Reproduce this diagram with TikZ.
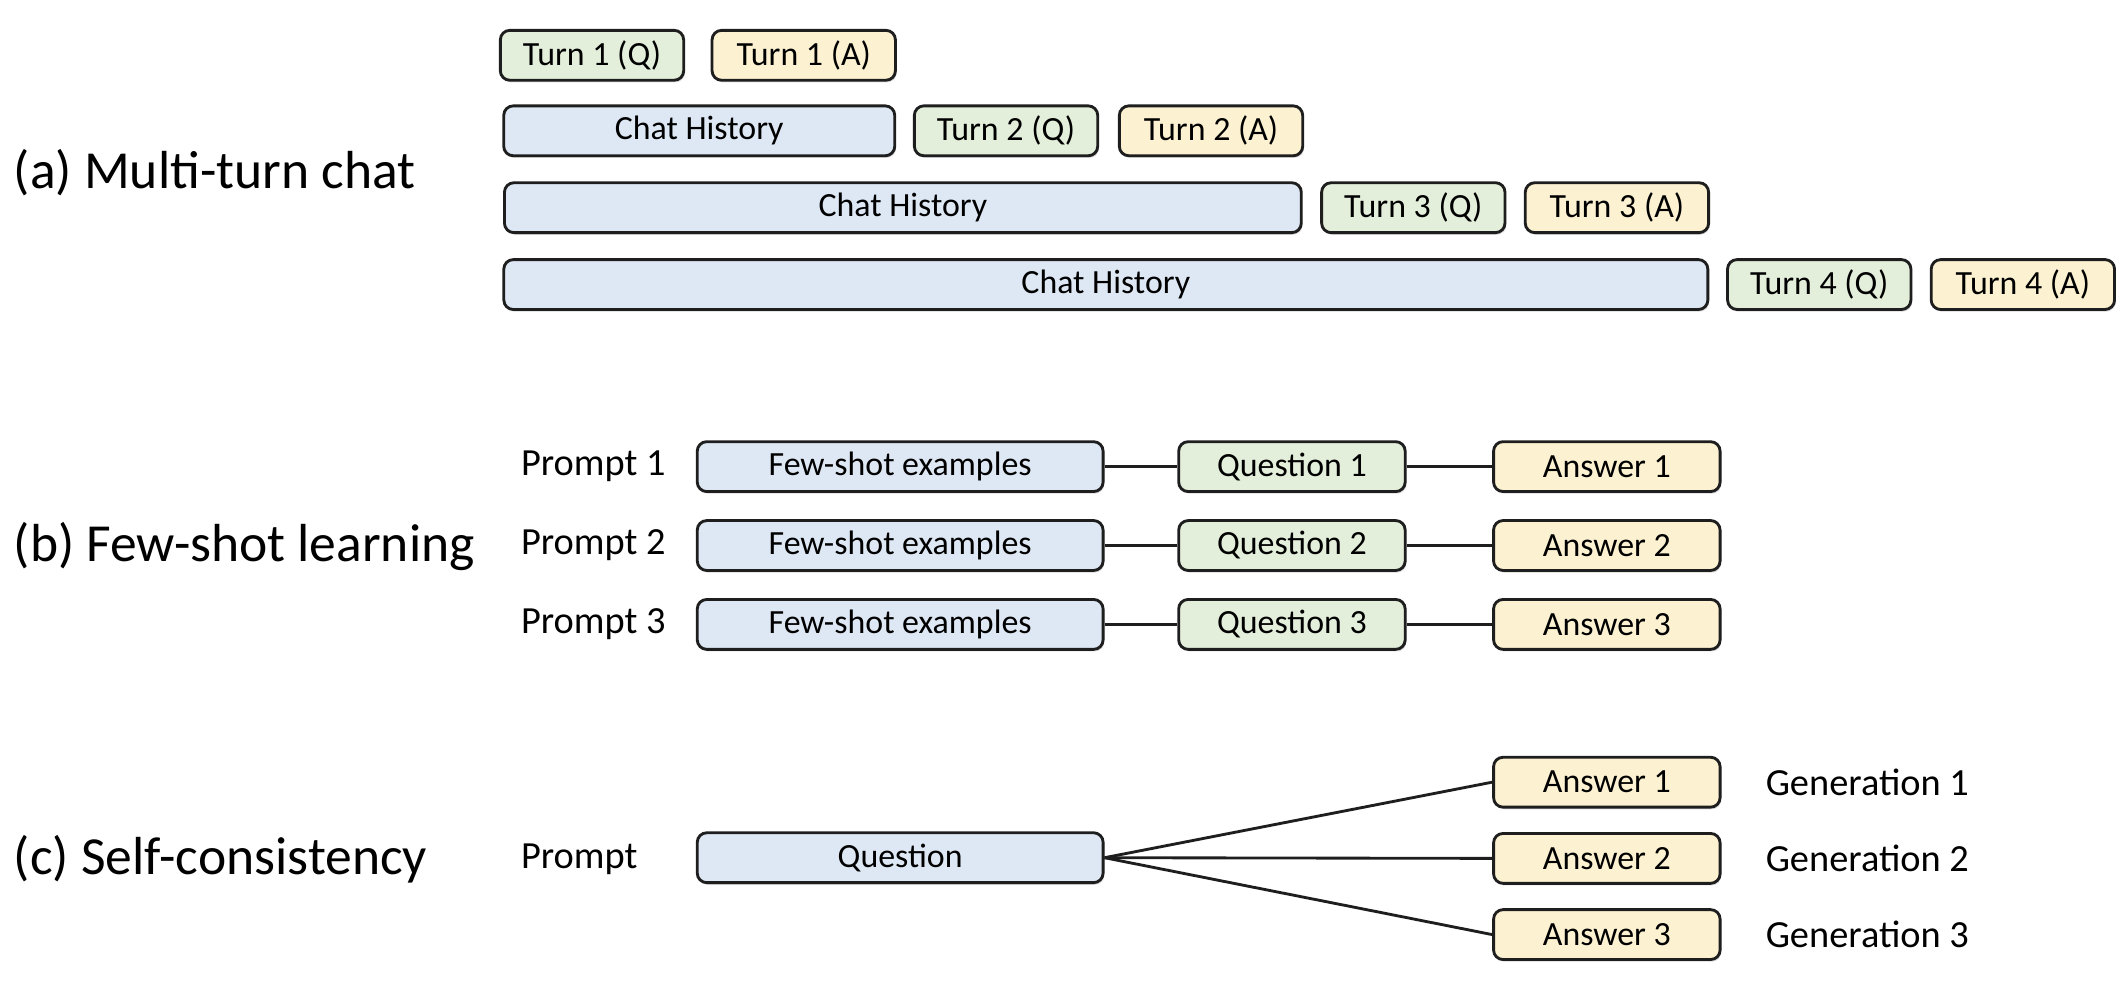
\documentclass[tikz,border=0pt]{standalone}
\usepackage{fontspec}
\setmainfont{Carlito}
\usepackage{xcolor}
\definecolor{histBlue}{RGB}{222,232,244}
\definecolor{qGreen}{RGB}{227,239,218}
\definecolor{aYellow}{RGB}{252,242,210}
\definecolor{edgeGray}{RGB}{30,30,30}
\usetikzlibrary{shadows}

\tikzset{
  blk/.style={draw=edgeGray, line width=1.2pt, rounded corners=4pt, minimum height=0.74cm, inner sep=0pt,
    font=\fontsize{14.3}{16}\selectfont, drop shadow={shadow xshift=0.5pt, shadow yshift=-0.9pt, opacity=0.3}},
  histblk/.style={blk, fill=histBlue},
  qblk/.style={blk, fill=qGreen, minimum width=2.72cm},
  ablk/.style={blk, fill=aYellow, minimum width=2.72cm},
  side/.style={anchor=west, inner sep=0pt, font=\fontsize{16.2}{19}\selectfont},
  part/.style={anchor=west, inner sep=0pt, font=\fontsize{22.6}{26}\selectfont},
  link/.style={draw=edgeGray, line width=1.2pt},
}

\begin{document}
\begin{tikzpicture}[x=0.02cm, y=-0.02cm]
			\useasboundingbox (0,0) rectangle (1575,731);

			% Section labels
			\node[part] (labA) at (10,128) {(a) Multi-turn chat};
			\node[part] (labB) at (10,405) {(b) Few-shot learning};
			\node[part] (labC) at (10,637) {(c) Self-consistency};

			% (a) chat turns
			\node[qblk] (t1q) at (439,41) {Turn 1 (Q)};
			\node[ablk] (t1a) at (596,41) {Turn 1 (A)};
			\node[histblk, minimum width=5.8cm] (ch2) at (518.5,97) {Chat History};
			\node[qblk] (t2q) at (746,97) {Turn 2 (Q)};
			\node[ablk] (t2a) at (898,97) {Turn 2 (A)};
			\node[histblk, minimum width=11.82cm] (ch3) at (669.5,154) {Chat History};
			\node[qblk] (t3q) at (1048,154) {Turn 3 (Q)};
			\node[ablk] (t3a) at (1199,154) {Turn 3 (A)};
			\node[histblk, minimum width=17.86cm] (ch4) at (820,211) {Chat History};
			\node[qblk] (t4q) at (1349,211) {Turn 4 (Q)};
			\node[ablk] (t4a) at (1500,211) {Turn 4 (A)};

			% (b) prompts with few-shot examples
			\foreach \i/\y in {1/346,2/404.5,3/463}{
			\node[side] (pr\i) at (386,\y) {Prompt \i};
			\node[histblk, minimum width=6.02cm] (fs\i) at (667.5,\y) {Few-shot examples};
			\node[qblk, minimum width=3.36cm] (qu\i) at (958,\y) {Question \i};
			\node[ablk, minimum width=3.36cm] (an\i) at (1191.5,\y) {Answer \i};
			\draw[link] (fs\i) -- (qu\i);
			\draw[link] (qu\i) -- (an\i);
			}

			% (c) one question, several answers
			\node[side] (prC) at (386,637) {Prompt};
			\node[histblk, minimum width=6.02cm] (quC) at (667.5,636) {Question};
			\foreach \i/\y in {1/580,2/636.5,3/693}{
			\node[ablk, minimum width=3.36cm] (gen\i) at (1191.5,\y) {Answer \i};
			\node[side] (gl\i) at (1309,\y) {Generation \i};
			\draw[link] (quC.east) -- (gen\i.west);
			}
		\end{tikzpicture}
\end{document}
